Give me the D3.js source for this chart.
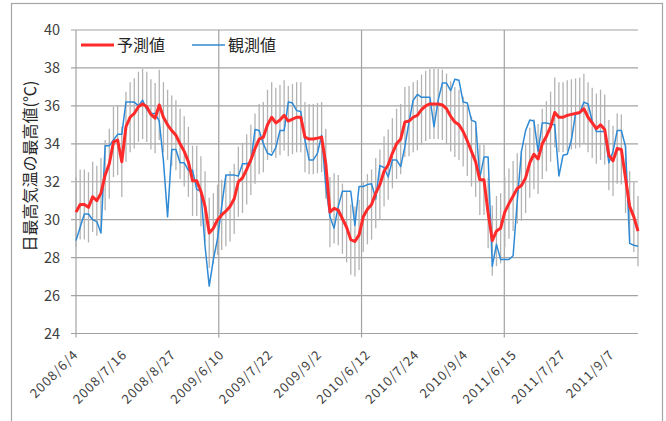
<!DOCTYPE html>
<html><head><meta charset="utf-8">
<script src="https://cdn.jsdelivr.net/npm/d3@7"></script>
<style>
html,body{margin:0;padding:0;background:#fff;}
svg{display:block;font-family:"Noto Sans CJK JP","Noto Sans",sans-serif;}
</style></head>
<body>
<script>
// ---- data ----
const seriesNames = ["予測値", "観測値"];
const yTitle = "日最高気温の最高値(℃)";
const tickLabels = ["2008/6/4","2008/7/16","2008/8/27","2009/6/10","2009/7/22","2009/9/2",
  "2010/6/12","2010/7/24","2010/9/4","2011/6/15","2011/7/27","2011/9/7"];
const labelEveryDays = 43;
const gridEveryDays = 126;
const totalDays = 496;
const yTicks = [24,26,28,30,32,34,36,38,40];
const errorHalfRange = 1.85;

const predicted = [
 30.4,30.8,30.8,30.65,31.2,31.0,31.4,32.35,32.95,34.1,34.2,33.05,34.9,35.4,35.6,35.95,36.1,35.95,35.55,35.35,36.05,35.4,35.0,34.7,34.45,34.0,33.6,33.05,32.05,32.05,31.5,30.7,29.3,29.55,
 30.0,30.25,30.45,30.7,31.1,32.0,32.2,32.65,33.15,33.75,34.25,34.35,35.0,35.4,35.1,35.25,35.5,35.2,35.3,35.4,35.4,34.35,34.25,34.25,34.3,34.35,32.95,30.4,30.6,30.5,30.05,29.6,28.95,28.85,
 29.2,30.15,30.55,30.8,31.4,31.85,32.55,32.9,33.5,34.0,34.25,35.15,35.2,35.4,35.5,35.8,36.0,36.1,36.1,36.1,36.05,35.85,35.45,35.15,35.0,34.65,34.15,33.6,33.05,32.1,32.1,30.35,28.9,29.4,
 29.55,30.4,30.85,31.25,31.65,31.8,32.2,33.0,33.45,33.2,34.0,34.4,34.9,35.65,35.4,35.4,35.5,35.55,35.6,35.65,35.85,35.4,35.1,34.8,35.0,34.75,33.4,33.1,33.75,33.7,32.2,30.7,30.15,29.4
];
const observed = [
 28.9,29.6,30.3,30.3,30.0,29.9,29.3,33.9,33.9,34.2,34.5,34.5,36.2,36.2,36.2,36.0,36.3,35.8,35.6,35.6,35.2,33.1,30.15,33.7,33.7,33.0,33.0,32.6,32.6,31.6,31.5,28.6,26.5,27.9,
 29.0,30.7,32.35,32.35,32.35,32.3,32.95,32.95,33.05,34.75,34.7,34.0,33.5,33.4,33.8,34.7,34.7,36.2,36.15,35.75,35.7,34.2,33.15,33.15,33.5,34.45,31.75,30.15,29.55,30.7,31.5,31.5,31.5,29.7,
 31.75,31.75,31.85,31.9,31.1,32.85,32.75,32.25,33.15,33.15,32.8,33.85,35.15,36.3,36.6,36.45,36.45,36.45,34.9,36.3,37.2,37.2,36.8,37.4,37.35,36.2,36.15,35.25,35.15,32.2,33.3,33.3,27.55,28.7,
 27.9,27.9,27.9,28.1,31.0,33.6,34.7,35.25,35.2,33.6,35.1,35.1,35.05,35.0,32.3,33.4,33.45,34.2,35.6,35.6,36.2,36.1,35.2,34.65,34.65,34.65,33.0,33.6,34.7,34.7,33.85,28.75,28.65,28.6
];

// ---- layout ----
const W = 666, H = 421;
const plot = {left: 76, right: 638, top: 30, bottom: 333.5};
const svg = d3.select("body").append("svg").attr("width", W).attr("height", H);

// outer frame
svg.append("rect").attr("x", 11.5).attr("y", 3.5).attr("width", 651).attr("height", 440)
  .attr("fill", "none").attr("stroke", "#a6a6a6").attr("stroke-width", 1.2);

const x = d3.scaleLinear().domain([0, totalDays]).range([plot.left, plot.right]);
const y = d3.scaleLinear().domain([24, 40]).range([plot.bottom, plot.top]);
const n = predicted.length;
const dayOf = i => i * totalDays / (n - 1);

const gridColor = "#a3a3a3";
// horizontal gridlines
svg.append("g").selectAll("line").data(yTicks).join("line")
  .attr("x1", plot.left - 5).attr("x2", plot.right)
  .attr("y1", d => y(d)).attr("y2", d => y(d))
  .attr("stroke", gridColor).attr("stroke-width", 1.2);
// vertical gridlines
const gridDays = d3.range(0, totalDays, gridEveryDays);
svg.append("g").selectAll("line").data(gridDays).join("line")
  .attr("x1", d => x(d)).attr("x2", d => x(d))
  .attr("y1", plot.top).attr("y2", plot.bottom + 4)
  .attr("stroke", gridColor).attr("stroke-width", 1.2);

// y tick labels
svg.append("g").selectAll("text").data(yTicks).join("text")
  .attr("x", 60).attr("y", d => y(d)).attr("dy", "0.35em")
  .attr("text-anchor", "end").attr("font-size", 14.5).attr("fill", "#404040")
  .text(d => d);

// x tick labels
svg.append("g").selectAll("text").data(tickLabels).join("text")
  .attr("transform", (d, i) => `translate(${x(i * labelEveryDays) + 3},${plot.bottom + 22}) rotate(-45)`)
  .attr("text-anchor", "end").attr("font-size", 13).attr("letter-spacing", "1px")
  .attr("fill", "#404040").text(d => d);

// y title
svg.append("text").attr("transform", `translate(36,166) rotate(-90)`)
  .attr("text-anchor", "middle").attr("font-size", 16).attr("fill", "#262626").text(yTitle);

// error bars
svg.append("g").selectAll("line").data(predicted).join("line")
  .attr("x1", (d, i) => x(dayOf(i))).attr("x2", (d, i) => x(dayOf(i)))
  .attr("y1", d => y(d - errorHalfRange)).attr("y2", d => y(d + errorHalfRange))
  .attr("stroke", "#b3b3b3").attr("stroke-width", 1.3);

const line = d3.line().x((d, i) => x(dayOf(i))).y(d => y(d));
svg.append("path").datum(observed).attr("d", line)
  .attr("fill", "none").attr("stroke", "#2f8ad6").attr("stroke-width", 1.5).attr("stroke-linejoin", "round");
svg.append("path").datum(predicted).attr("d", line)
  .attr("fill", "none").attr("stroke", "#ff2a2a").attr("stroke-width", 3).attr("stroke-linejoin", "round");

// legend
const legend = [
  {name: seriesNames[0], color: "#ff2a2a", w: 3, x0: 81},
  {name: seriesNames[1], color: "#2f8ad6", w: 1.5, x0: 192}
];
const lg = svg.append("g").selectAll("g").data(legend).join("g");
lg.append("line").attr("x1", d => d.x0).attr("x2", d => d.x0 + 33).attr("y1", 45).attr("y2", 45)
  .attr("stroke", d => d.color).attr("stroke-width", d => d.w);
lg.append("text").attr("x", d => d.x0 + 36).attr("y", 45).attr("dy", "0.36em")
  .attr("font-size", 16).attr("fill", "#262626").text(d => d.name);
</script>
</body></html>
